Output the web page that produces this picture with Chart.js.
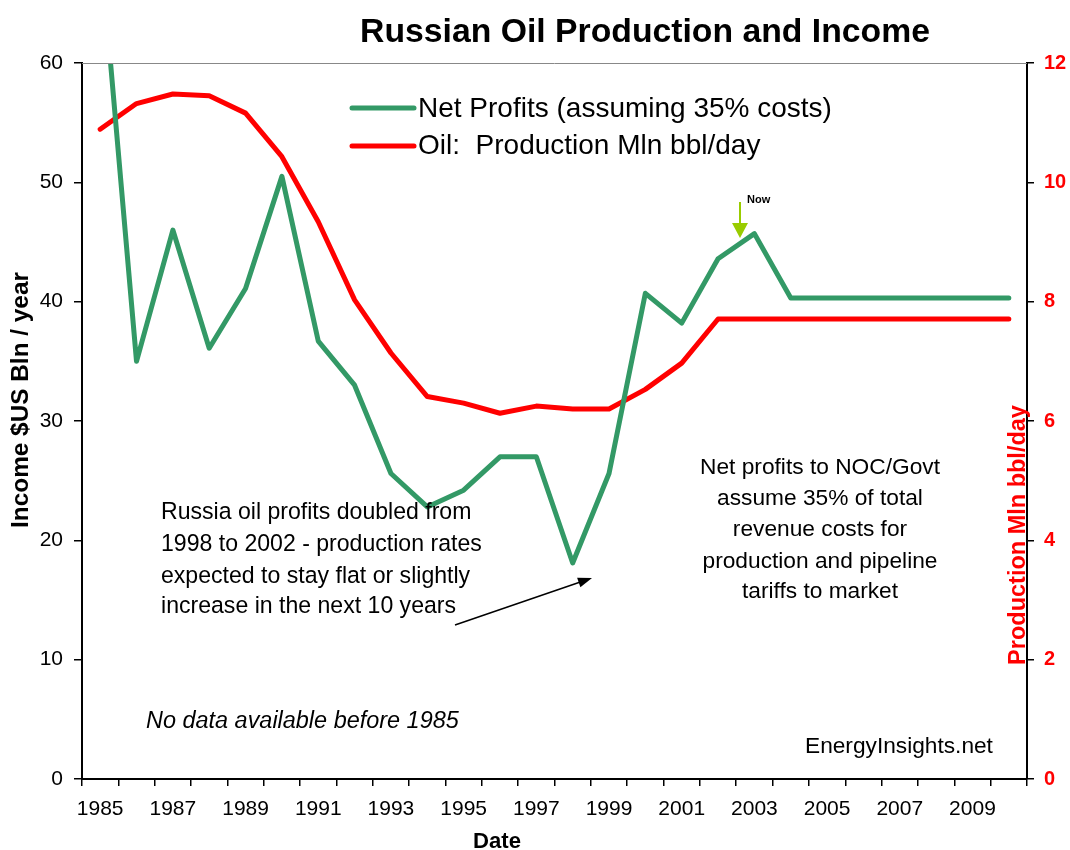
<!DOCTYPE html>
<html>
<head>
<meta charset="utf-8">
<script src="https://cdn.jsdelivr.net/npm/chart.js@4.4.1/dist/chart.umd.min.js"></script>
<style>
  html, body { margin: 0; padding: 0; background: #ffffff; }
  #wrap { width: 1070px; height: 850px; position: relative; }
</style>
</head>
<body>
<div id="wrap"><canvas id="c" width="1070" height="850"></canvas></div>
<script>
// ---- data ----
const years = ['1985','1986','1987','1988','1989','1990','1991','1992','1993','1994','1995','1996','1997',
               '1998','1999','2000','2001','2002','2003','2004','2005','2006','2007','2008','2009','2010'];
const netProfits = [70, 35, 46, 36.1, 41.1, 50.5, 36.7, 33.0, 25.6, 22.8, 24.2, 27.0, 27.0,
                    18.1, 25.6, 40.7, 38.2, 43.6, 45.7, 40.3, 40.3, 40.3, 40.3, 40.3, 40.3, 40.3];
const production = [10.89, 11.32, 11.48, 11.45, 11.16, 10.43, 9.34, 8.03, 7.14, 6.41, 6.30, 6.13, 6.25,
                    6.20, 6.20, 6.53, 6.97, 7.71, 7.71, 7.71, 7.71, 7.71, 7.71, 7.71, 7.71, 7.71];
const leftTicks = [0, 10, 20, 30, 40, 50, 60];
const rightTicks = [0, 2, 4, 6, 8, 10, 12];

const titleText = 'Russian Oil Production and Income';
const seriesNames = ['Net Profits (assuming 35% costs)', 'Oil:  Production Mln bbl/day'];
const leftAxisTitle = 'Income $US Bln / year';
const rightAxisTitle = 'Production Mln bbl/day';
const xAxisTitle = 'Date';
const noteLeft = ['Russia oil profits doubled from', '1998 to 2002 - production rates',
                  'expected to stay flat or slightly', 'increase in the next 10 years'];
const noteRight = ['Net profits to NOC/Govt', 'assume 35% of total', 'revenue costs for',
                   'production and pipeline', 'tariffs to market'];
const noteNoData = 'No data available before 1985';
const credit = 'EnergyInsights.net';
const nowLabel = 'Now';

const GREEN = '#339966';
const RED = '#FF0000';
const FAM = '"Liberation Sans", Arial, sans-serif';

function fitSize(ctx, text, target, weight, style) {
  ctx.font = (style||'normal') + ' ' + (weight||'normal') + ' 20px ' + FAM;
  const w = ctx.measureText(text).width;
  return 20 * target / w;
}

const overlay = {
  id: 'overlay',
  afterDraw(chart) {
    const ctx = chart.ctx;
    const a = chart.chartArea;
    ctx.save();
    // top border of plot
    ctx.strokeStyle = '#888888';
    ctx.lineWidth = 1;
    ctx.beginPath(); ctx.moveTo(a.left, a.top + 0.5); ctx.lineTo(a.right, a.top + 0.5); ctx.stroke();

    ctx.textBaseline = 'middle';
    // title
    let s = fitSize(ctx, titleText, 570, 'bold');
    ctx.font = 'bold ' + s + 'px ' + FAM;
    ctx.fillStyle = '#000';
    ctx.textAlign = 'center';
    ctx.fillText(titleText, 645, 33);

    // legend
    ctx.lineCap = 'round';
    ctx.lineWidth = 5;
    ctx.strokeStyle = GREEN;
    ctx.beginPath(); ctx.moveTo(352, 108); ctx.lineTo(414, 108); ctx.stroke();
    ctx.strokeStyle = RED;
    ctx.beginPath(); ctx.moveTo(352, 146); ctx.lineTo(414, 146); ctx.stroke();
    s = fitSize(ctx, seriesNames[0], 414);
    ctx.font = s + 'px ' + FAM;
    ctx.textAlign = 'left';
    ctx.fillStyle = '#000';
    ctx.fillText(seriesNames[0], 418, 109);
    ctx.fillText(seriesNames[1], 418, 146);

    // left axis title
    ctx.save();
    ctx.translate(21, 400);
    ctx.rotate(-Math.PI / 2);
    s = fitSize(ctx, leftAxisTitle, 256, 'bold');
    ctx.font = 'bold ' + s + 'px ' + FAM;
    ctx.textAlign = 'center';
    ctx.fillStyle = '#000';
    ctx.fillText(leftAxisTitle, 0, 0);
    ctx.restore();

    // right axis title
    ctx.save();
    ctx.translate(1019, 535);
    ctx.rotate(-Math.PI / 2);
    s = fitSize(ctx, rightAxisTitle, 260, 'bold');
    ctx.font = 'bold ' + s + 'px ' + FAM;
    ctx.textAlign = 'center';
    ctx.fillStyle = RED;
    ctx.fillText(rightAxisTitle, 0, 0);
    ctx.restore();

    // x axis title
    s = fitSize(ctx, xAxisTitle, 48, 'bold');
    ctx.font = 'bold ' + s + 'px ' + FAM;
    ctx.textAlign = 'center';
    ctx.fillStyle = '#000';
    ctx.fillText(xAxisTitle, 497, 842);

    // left note
    s = fitSize(ctx, noteLeft[1], 321);
    ctx.font = s + 'px ' + FAM;
    ctx.textAlign = 'left';
    const ly = [513, 545, 577, 607];
    noteLeft.forEach((t, i) => ctx.fillText(t, 161, ly[i]));

    // right note
    s = fitSize(ctx, noteRight[0], 240);
    ctx.font = s + 'px ' + FAM;
    ctx.textAlign = 'center';
    const ry = [468, 499, 530, 562, 592];
    noteRight.forEach((t, i) => ctx.fillText(t, 820, ry[i]));

    // no data note
    s = fitSize(ctx, noteNoData, 313, 'normal', 'italic');
    ctx.font = 'italic ' + s + 'px ' + FAM;
    ctx.textAlign = 'left';
    ctx.fillText(noteNoData, 146, 721);

    // credit
    s = fitSize(ctx, credit, 188);
    ctx.font = s + 'px ' + FAM;
    ctx.fillText(credit, 805, 747);

    // black arrow
    const x0 = 455, y0 = 625, x1 = 592, y1 = 578;
    const ang = Math.atan2(y1 - y0, x1 - x0);
    ctx.strokeStyle = '#000';
    ctx.fillStyle = '#000';
    ctx.lineWidth = 1.5;
    ctx.lineCap = 'butt';
    ctx.beginPath(); ctx.moveTo(x0, y0);
    ctx.lineTo(x1 - 10 * Math.cos(ang), y1 - 10 * Math.sin(ang)); ctx.stroke();
    ctx.beginPath();
    ctx.moveTo(x1, y1);
    ctx.lineTo(x1 - 14 * Math.cos(ang) + 5 * Math.sin(ang), y1 - 14 * Math.sin(ang) - 5 * Math.cos(ang));
    ctx.lineTo(x1 - 14 * Math.cos(ang) - 5 * Math.sin(ang), y1 - 14 * Math.sin(ang) + 5 * Math.cos(ang));
    ctx.closePath(); ctx.fill();

    // green "now" arrow
    ctx.strokeStyle = '#99CC00';
    ctx.fillStyle = '#99CC00';
    ctx.lineWidth = 2;
    ctx.beginPath(); ctx.moveTo(740, 202); ctx.lineTo(740, 226); ctx.stroke();
    ctx.beginPath(); ctx.moveTo(740, 238); ctx.lineTo(732, 223); ctx.lineTo(748, 223); ctx.closePath(); ctx.fill();
    ctx.font = 'bold 11px ' + FAM;
    ctx.fillStyle = '#000';
    ctx.textAlign = 'left';
    ctx.fillText(nowLabel, 747, 200);

    ctx.restore();
  }
};

new Chart(document.getElementById('c'), {
  type: 'line',
  data: {
    labels: years,
    datasets: [
      { label: seriesNames[0], data: netProfits, yAxisID: 'y', borderColor: GREEN, backgroundColor: GREEN,
        borderWidth: 5, pointRadius: 0, tension: 0, clip: 0, order: 0, borderJoinStyle: 'round', borderCapStyle: 'round' },
      { label: seriesNames[1], data: production, yAxisID: 'y1', borderColor: RED, backgroundColor: RED,
        borderWidth: 5, pointRadius: 0, tension: 0, clip: 0, order: 1, borderJoinStyle: 'round', borderCapStyle: 'round' }
    ]
  },
  options: {
    responsive: false,
    animation: false,
    layout: { padding: { top: 63, left: 0, right: 0, bottom: 0 } },
    plugins: { legend: { display: false }, title: { display: false }, tooltip: { enabled: false } },
    scales: {
      x: {
        type: 'category',
        offset: true,
        grid: { offset: true, drawOnChartArea: false, tickLength: 7, color: '#000', lineWidth: 1.5 },
        border: { display: true, color: '#000', width: 2 },
        ticks: {
          autoSkip: false, maxRotation: 0, minRotation: 0, padding: 11, color: '#000',
          font: { family: FAM, size: 21 },
          callback: (v, i) => (i % 2 === 0 ? years[i] : '')
        },
        afterFit: (sc) => { sc.height = 71; }
      },
      y: {
        position: 'left', min: 0, max: 60,
        afterBuildTicks: (sc) => { sc.ticks = leftTicks.map(v => ({ value: v })); },
        grid: { drawOnChartArea: false, tickLength: 8, color: '#000', lineWidth: 1.5 },
        border: { display: true, color: '#000', width: 2 },
        ticks: { padding: 11, color: '#000', font: { family: FAM, size: 21 } },
        afterFit: (sc) => { sc.width = 82; }
      },
      y1: {
        position: 'right', min: 0, max: 12,
        afterBuildTicks: (sc) => { sc.ticks = rightTicks.map(v => ({ value: v })); },
        grid: { drawOnChartArea: false, tickLength: 7, color: '#000', lineWidth: 1.5 },
        border: { display: true, color: '#000', width: 2 },
        ticks: { padding: 10, color: RED, font: { family: FAM, size: 20, weight: 'bold' } },
        afterFit: (sc) => { sc.width = 43; }
      }
    }
  },
  plugins: [overlay]
});
</script>
</body>
</html>
